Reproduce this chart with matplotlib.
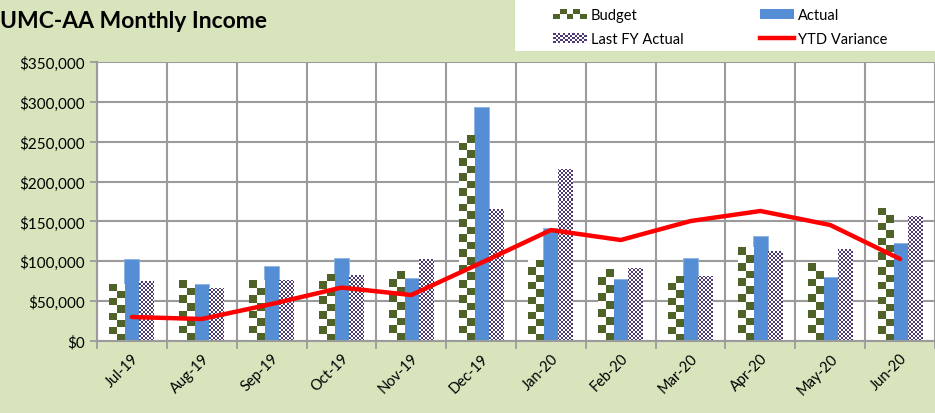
import numpy as np
import matplotlib.pyplot as plt
from matplotlib.colors import ListedColormap
from matplotlib.path import Path
from matplotlib.patches import Rectangle, Patch
from matplotlib.lines import Line2D
from matplotlib.legend_handler import HandlerBase
from matplotlib.ticker import FuncFormatter

plt.rcParams['font.family'] = ['Lato', 'DejaVu Sans']

# data
months = ['Jul-19', 'Aug-19', 'Sep-19', 'Oct-19', 'Nov-19', 'Dec-19',
          'Jan-20', 'Feb-20', 'Mar-20', 'Apr-20', 'May-20', 'Jun-20']
budget = [71500, 76500, 75300, 84000, 86600, 257200,
          101600, 89100, 81500, 116700, 97800, 165600]
actual = [102900, 71500, 94100, 104100, 79000, 293500,
          141800, 77800, 104100, 131700, 80300, 122900]
last_fy = [75300, 66500, 76500, 82800, 102900, 165600,
           215800, 91600, 81500, 112900, 115400, 156800]
ytd_var = [30100, 27600, 46400, 67000, 57700, 98000,
           139200, 126700, 150500, 163100, 145500, 102900]

BG = '#D8E4BC'
OLIVE = '#4F6228'
BLUE = '#558ED5'
PURPLE = '#4E3A72'
GRID = '#9B9B9B'


def checker_bars(ax, bars, color, cell_px):
    # big checkerboard, two columns per bar, drawn inside each bar
    px_per_y = ax.get_window_extent().height / np.diff(ax.get_ylim())[0]
    cmap = ListedColormap(['white', color])
    for b in bars:
        x0, y0, bw, bh = b.get_x(), b.get_y(), b.get_width(), b.get_height()
        rows = max(1, int(round(bh * px_per_y / cell_px)))
        grid = np.indices((rows, 2)).sum(axis=0) % 2
        ax.imshow(grid, cmap=cmap, extent=(x0, x0 + bw, y0, y0 + bh), aspect='auto',
                  interpolation='nearest', origin='lower', zorder=2.5)


def checker_fill(ax, bars, color, cell_px):
    # fine checkerboard over the whole axes, clipped to the bars
    bbox = ax.get_window_extent()
    nx = int(round(bbox.width / cell_px))
    ny = int(round(bbox.height / cell_px))
    grid = np.indices((ny, nx)).sum(axis=0) % 2
    im = ax.imshow(grid, cmap=ListedColormap(['white', color]),
                   extent=(*ax.get_xlim(), *ax.get_ylim()), aspect='auto',
                   interpolation='nearest', origin='lower', zorder=2.5)
    paths = [b.get_path().transformed(b.get_patch_transform()) for b in bars]
    im.set_clip_path(Path.make_compound_path(*paths), ax.transData)


class CheckerHandler(HandlerBase):
    def __init__(self, color, nx, ny):
        super().__init__()
        self.color, self.nx, self.ny = color, nx, ny

    def create_artists(self, legend, orig_handle, xdescent, ydescent,
                       width, height, fontsize, trans):
        cw, ch = width / self.nx, height / self.ny
        arts = []
        for i in range(self.nx):
            for j in range(self.ny):
                c = self.color if (i + j) % 2 == 0 else 'white'
                arts.append(Rectangle((-xdescent + i * cw, -ydescent + j * ch), cw, ch,
                                      facecolor=c, edgecolor='none', transform=trans))
        return arts


fig = plt.figure(figsize=(9.35, 4.14), dpi=100, facecolor=BG)
ax = fig.add_axes([97 / 935, 72 / 414, 838 / 935, 279 / 414])
ax.set_xlim(-0.5, 11.5)
ax.set_ylim(0, 350000)

x = np.arange(len(months))
w = 0.215
b1 = ax.bar(x - w, budget, w, color='white', zorder=2)
b2 = ax.bar(x, actual, w, color=BLUE, edgecolor='#8DB3E2', linewidth=0.6, zorder=2)
b3 = ax.bar(x + w, last_fy, w, color='white', zorder=2)
checker_bars(ax, b1, OLIVE, 7.5)
checker_fill(ax, b3, PURPLE, 2)
ax.plot(x, ytd_var, color='#FF0000', lw=3.2, zorder=4, solid_capstyle='round')
ax.set_xlim(-0.5, 11.5)
ax.set_ylim(0, 350000)

ax.set_axisbelow(True)
ax.set_yticks(np.arange(0, 350001, 50000))
ax.yaxis.set_major_formatter(FuncFormatter(lambda v, p: f'${v:,.0f}'))
ax.set_xticks(x)
ax.set_xticklabels(months, rotation=45, ha='right', rotation_mode='anchor')
ax.set_xticks(np.arange(-0.5, 12, 1), minor=True)
ax.tick_params(axis='x', which='major', length=0, pad=7, labelsize=10.5)
ax.tick_params(axis='x', which='minor', length=6, color=GRID, width=1.3)
ax.tick_params(axis='y', length=5, color=GRID, width=1.3, labelsize=11)
ax.grid(True, axis='y', color=GRID, lw=1.5)
ax.grid(True, axis='x', which='minor', color=GRID, lw=1.5)
for s in ['top', 'right']:
    ax.spines[s].set_visible(False)
for s in ['left', 'bottom']:
    ax.spines[s].set_color(GRID)
    ax.spines[s].set_linewidth(1.5)

fig.text(0.0, 1 - 22 / 414, 'UMC-AA Monthly Income', fontsize=16.5,
         fontweight='bold', va='center', ha='left')

# legend box
fig.patches.append(Rectangle((515 / 935, 1 - 52 / 414), 420 / 935, 52 / 414,
                             transform=fig.transFigure, facecolor='white',
                             edgecolor='none', zorder=1))
h_budget = Patch(label='Budget')
h_last = Patch(label='Last FY Actual')
h_actual = Patch(facecolor=BLUE, label='Actual')
h_ytd = Line2D([], [], color='#FF0000', lw=3.2, label='YTD Variance')
fig.legend(handles=[h_budget, h_last, h_actual, h_ytd], ncol=2,
           loc='upper left', bbox_to_anchor=(540 / 935, 1 + 4 / 414), frameon=False,
           fontsize=10.5, handlelength=2.3, handletextpad=0.3,
           columnspacing=5.25, labelspacing=0.7,
           handler_map={h_budget: CheckerHandler(OLIVE, 5, 2),
                        h_last: CheckerHandler(PURPLE, 14, 5)})

fig.savefig('out.png', dpi=100, facecolor=BG)
